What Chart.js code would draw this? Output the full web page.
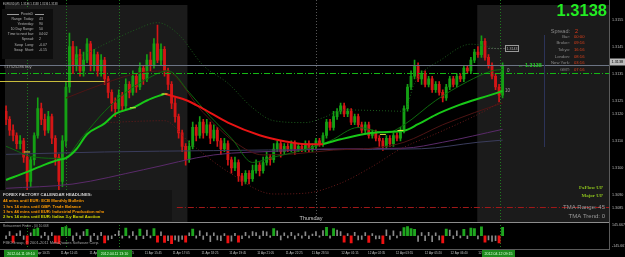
<!DOCTYPE html>
<html>
<head>
<meta charset="utf-8">
<script src="https://cdn.jsdelivr.net/npm/chart.js@4"></script>
<style>
  html, body { margin: 0; padding: 0; background: #000; }
  canvas { display: block; }
</style>
</head>
<body>
<canvas id="chart" width="625" height="257"></canvas>
<script>
// EURUSD candles, prices in pips above 1.3000, one entry per bar
const opens = [121,118,114,112,109,110,104,95,103,112,122,118,114,119,111,104,95,110,130,145,138,142,136,140,146,138,142,136,140,133,128,124,122,127,123,131,128,134,130,137,133,140,138,146,140,144,136,131,124,119,113,108,103,108,115,112,117,113,116,111,114,110,107,109,103,100,102,97,95,98,96,99,101,99,102,104,103,107,109,106,108,107,109,107,108,107,109,107,108,110,109,112,117,115,119,121,123,120,121,117,119,116,114,116,112,113,111,110,108,111,109,112,111,114,122,130,134,138,133,135,131,133,129,131,128,126,130,133,131,134,133,137,136,140,143,142,147,141,138,134,130,127];
const highs = [123,119,116,113,112,111,105,104,113,126,124,120,121,120,112,105,112,132,150,147,145,144,143,148,147,144,143,142,141,134,129,126,129,128,133,132,136,135,139,138,142,143,148,153,146,145,137,132,126,120,114,109,110,117,116,119,118,118,117,116,115,111,111,110,104,104,103,98,99,99,101,103,102,104,106,105,109,110,110,109,109,110,110,109,109,110,110,109,111,111,113,118,118,121,122,124,124,122,122,120,120,117,117,117,114,114,112,111,112,112,113,113,115,123,131,136,140,139,136,136,134,134,132,132,129,131,134,134,135,135,138,138,141,144,145,149,148,142,139,135,131,139];
const lows = [116,112,110,107,107,102,90.5,93,101,111,116,112,113,109,101,88,93,108,128,135,136,134,134,139,136,136,134,134,131,126,121,119,121,121,122,126,127,128,129,131,132,136,137,139,138,134,129,122,117,111,106,101,102,107,110,111,111,112,109,110,108,105,106,101,98,99,95,93.5,94,94,95,98,97,98,101,101,102,106,104,105,106,106,105,106,106,106,106,106,107,108,108,111,114,114,118,120,119,119,116,116,115,113,113,111,111,110,108,106.5,107,108,108,110,110,113,121,129,133,132,131,130,130,128,128,127,124.5,125,129,130,130,132,132,135,135,139,141,141,140,137,133,129,124.5,126];
const closes = [118,114,112,109,110,104,95,103,112,122,118,114,119,111,104,95,110,130,145,138,142,136,140,146,138,142,136,140,133,128,124,122,127,123,131,128,134,130,137,133,140,138,146,140,144,136,131,124,119,113,108,103,108,115,112,117,113,116,111,114,110,107,109,103,100,102,97,95,98,96,99,101,99,102,104,103,107,109,106,108,107,109,107,108,107,109,107,108,110,109,112,117,115,119,121,123,120,121,117,119,116,114,116,112,113,111,110,108,111,109,112,111,114,122,130,134,138,133,135,131,133,129,131,128,126,130,133,131,134,133,137,136,140,143,142,147,141,138,134,130,127,138];

// Retracement Finder histogram, one per bar
const hist = [-40,60,-95,30,70,-50,-120,40,95,110,-30,50,-60,45,-100,-110,120,130,100,-70,40,-45,60,90,-80,35,-55,50,-100,-60,-40,20,70,-35,110,-30,60,-50,95,-40,80,-30,100,-90,55,-95,-70,-110,-60,-80,-50,-90,40,95,-35,70,-50,45,-85,40,-60,-70,30,-100,-75,35,-90,-40,50,-30,60,45,-40,65,55,-25,100,70,-60,40,-30,50,-45,30,-35,55,-40,25,60,-20,75,120,-35,100,80,60,-90,30,-100,50,-60,-50,45,-95,30,-45,-40,-110,85,-50,70,-30,60,115,130,100,90,-80,45,-70,50,-85,40,-60,-100,95,80,-40,70,-30,90,-40,110,100,-45,125,-90,-60,-80,-70,-100,120];

// indicator lines (bar index, pips)
const tmaUpBars1 = [0,6,11,15,17,20,23,28,31,36,40,45];
const tmaUpVals1 = [95.5,98.5,101.2,103,103.6,107,112.5,116.5,120,122.3,125,127.5];
const tmaDownBars = [45,51,56,63,72,79,85,90];
const tmaDownVals = [127.5,125.2,121.9,116.8,112.1,109.9,108.8,108.8];
const tmaUpBars2 = [90,95,101,106,113,117,122,128,132,137,141];
const tmaUpVals2 = [108.8,110.6,112.4,113.2,113.8,116.2,119.7,123,124.8,126.8,128.5];
const fastBars = [0,8,16,22,28,34,40,46,52,58,64,70,76,84,92,100,108,113,122,131,138,141];
const fastVals = [108,104,103.5,112,121,128,133,136,128,119,111,102,104,106.5,110,115,113,116,125,132,136,136.5];
const upperBars = [17,28,37,43,49,56,63,70,76,85,90,96,107,113,116,124,132,140];
const upperVals = [138.6,145.9,151.4,153.9,149.5,138,131.4,122.3,117.5,116.8,118.6,121.5,121.2,121,131.4,140.5,145.9,144.1];
const lowerBars = [28,45,52,63,76,85,95,104,112,123,135,140];
const lowerVals = [116.8,117.5,109.5,98.6,90.3,90.6,94.3,100.5,107,113.2,120.5,124.1];
const midBars = [17,28,37,45,56,65,73,82,93,104,113,124,133,141];
const midVals = [125.9,131.4,135,136,120.5,109.5,104.8,105.2,106.6,107.3,109.5,116,120.5,124.1];
const slowBars = [0,19,39,59,79,90,113,124,141];
const slowVals = [92.4,94,99.3,104.8,106.3,107,107.3,109.5,114.3];
const flatBars = [0,28,59,90,118,134,141];
const flatVals = [105,105.9,106.4,106.8,107.1,109.5,110.3];
const markerBars = [6,36,45,107,112];
const markerVals = [105.9,122.3,127.4,112.4,113.9];

// axes
const priceTicks = [155,145,135,125,120,110,100,90,85];
const subTicks = [145.667,0,-145.667];
const tickBars = [7.6,15.5,23.7,31.5,39.4,47.3,55.5,63.4,71.3,79.4,86.8,95.2,102.8,110.7,118.9,126.2,134.1];
const tickLabels = ['11 Apr 10:25','11 Apr 11:45','11 Apr 13:05','11 Apr 14:25','11 Apr 15:45','11 Apr 17:05','11 Apr 18:25','11 Apr 19:45','11 Apr 21:05','11 Apr 22:25','11 Apr 23:50','12 Apr 01:15','12 Apr 02:35','12 Apr 03:55','12 Apr 05:20','12 Apr 06:40','12 Apr 08:00'];

// levels and sessions
const bidPrice = 138;
const orderPrice = 135.2;
const yellowLevel = 132.4;
const redLevel = 85.5;
const sessions = [[-0.3, 51.5], [133.8, 171.5]];
const greenVLines = [6, 17, 32, 140.3];
const dayLine = 88;

const UP = '#14a014', DOWN = '#d41616';
const fmt = v => (1.3 + v / 10000).toFixed(4);
const pts = (bars, vals) => bars.map((b, i) => ({ x: b, y: vals[i] }));
const candleColor = c => closes[c.dataIndex] >= opens[c.dataIndex] ? UP : DOWN;

function line(label, data, color, width, dash) {
  return { type: 'line', label, data, borderColor: color, borderWidth: width, borderDash: dash || [],
    pointRadius: 0, cubicInterpolationMode: 'monotone', yAxisID: 'y' };
}

const overlay = {
  id: 'overlay',
  beforeDraw(chart) {
    const { ctx } = chart;
    ctx.save();
    ctx.fillStyle = '#000';
    ctx.fillRect(0, 0, chart.width, chart.height);
    ctx.restore();
  },
  beforeDatasetsDraw(chart) {
    const { ctx, scales: { x, y } } = chart;
    ctx.save();
    ctx.fillStyle = '#1b1b1b';
    sessions.forEach(([a, b]) => {
      const x0 = x.getPixelForValue(a), x1 = x.getPixelForValue(b);
      ctx.fillRect(x0, y.top, x1 - x0, y.bottom - y.top);
    });
    ctx.lineWidth = 1;
    ctx.setLineDash([1, 2]);
    ctx.strokeStyle = '#1f7a1f';
    greenVLines.forEach(b => {
      const px = Math.round(x.getPixelForValue(b)) + 0.5;
      ctx.beginPath(); ctx.moveTo(px, 0); ctx.lineTo(px, 249); ctx.stroke();
    });
    ctx.strokeStyle = '#555';
    const dx = Math.round(x.getPixelForValue(dayLine)) + 0.5;
    ctx.beginPath(); ctx.moveTo(dx, 0); ctx.lineTo(dx, y.bottom); ctx.stroke();
    ctx.restore();
  },
  afterDatasetsDraw(chart) {
    const { ctx, scales: { x, y } } = chart;
    const right = x.right;
    const hy = v => Math.round(y.getPixelForValue(v)) + 0.5;
    ctx.save();
    ctx.lineWidth = 1;
    // bid line
    ctx.strokeStyle = '#6c7484';
    ctx.beginPath(); ctx.moveTo(0, hy(bidPrice)); ctx.lineTo(right, hy(bidPrice)); ctx.stroke();
    // order line
    ctx.strokeStyle = '#14b814';
    ctx.setLineDash([6, 2, 1, 2]);
    ctx.beginPath(); ctx.moveTo(0, hy(orderPrice)); ctx.lineTo(right, hy(orderPrice)); ctx.stroke();
    // red level
    ctx.strokeStyle = '#a01818';
    ctx.beginPath(); ctx.moveTo(x.getPixelForValue(48.5), hy(redLevel)); ctx.lineTo(right, hy(redLevel)); ctx.stroke();
    ctx.setLineDash([]);
    // yellow level
    ctx.strokeStyle = '#c8bd3c';
    ctx.beginPath(); ctx.moveTo(0, hy(yellowLevel)); ctx.lineTo(x.getPixelForValue(28), hy(yellowLevel)); ctx.stroke();
    // label pointer 1.3143
    ctx.strokeStyle = '#777';
    ctx.setLineDash([1, 2]);
    ctx.beginPath(); ctx.moveTo(x.getPixelForValue(137), 48.5); ctx.lineTo(505, 48.5); ctx.stroke();
    ctx.setLineDash([]);
    ctx.strokeStyle = '#999';
    ctx.strokeRect(505.5, 45.5, 13, 6);
    // right panel vertical
    ctx.strokeStyle = '#2c3358';
    ctx.beginPath(); ctx.moveTo(544.5, 35); ctx.lineTo(544.5, 147); ctx.stroke();
    ctx.restore();
  },
  afterDraw(chart) {
    const { ctx } = chart;
    ctx.save();
    ctx.textBaseline = 'middle';
    const txt = (s, px, py, font, color, align) => {
      ctx.font = font; ctx.fillStyle = color; ctx.textAlign = align || 'left';
      ctx.fillText(s, px, py);
    };
    const F = 'Liberation Sans, Arial, sans-serif';

    // window borders
    ctx.strokeStyle = '#8c8c8c'; ctx.lineWidth = 1;
    ctx.beginPath(); ctx.moveTo(0, 222.5); ctx.lineTo(610, 222.5); ctx.stroke();
    ctx.strokeStyle = '#5a5a5a';
    ctx.beginPath(); ctx.moveTo(0, 249.5); ctx.lineTo(610, 249.5); ctx.stroke();
    ctx.beginPath(); ctx.moveTo(609.5, 0); ctx.lineTo(609.5, 249.5); ctx.stroke();

    txt('EURUSD,M5  1.3136 1.3138 1.3136 1.3138', 3, 4, '2.8px ' + F, '#c8c8c8');

    // pivots box
    ctx.fillStyle = '#0e0e0e'; ctx.fillRect(2, 9, 51, 50);
    ctx.strokeStyle = '#9a9a9a';
    ctx.beginPath(); ctx.moveTo(7, 14.5); ctx.lineTo(19, 14.5); ctx.moveTo(35, 14.5); ctx.lineTo(44, 14.5); ctx.stroke();
    txt('PivotsD', 27, 14, '3.6px ' + F, '#b4b4b4', 'center');
    const piv = [['Range  Today:', '43'], ['Yesterday:', '90'], ['10 Day Range:', '50'], ['Time to next bar:', '04:02'],
      ['Spread:', '2'], ['Swap  Long:', '-0.07'], ['Swap  Short:', '-0.15']];
    const pivY = [19.5, 24.5, 29.5, 34.5, 39.5, 45, 50.5];
    piv.forEach(([a, b], i) => {
      txt(a, 34, pivY[i], '3.5px ' + F, '#b4b4b4', 'right');
      txt(b, 39, pivY[i], '3.5px ' + F, '#b4b4b4');
    });
    txt('#17525286 buy', 4, 67, '4px ' + F, '#a8a8a8');

    // big price and clock panel
    txt('1.3138', 607, 11.5, 'bold 16.5px ' + F, '#22ee22', 'right');
    txt('Spread:', 570, 31, '5.5px ' + F, '#8a8a8a', 'right');
    txt('2', 575, 31, '5.5px ' + F, '#e03a1a');
    const clk = [['Bar:', '00:00'], ['Broker:', '09:16'], ['Tokyo:', '16:16'], ['London:', '08:16'], ['New York:', '03:16'], ['GMT:', '07:16']];
    const clkY = [36.5, 43, 50, 56.5, 63, 69.5];
    clk.forEach(([a, b], i) => {
      txt(a, 570, clkY[i], '4.2px ' + F, '#8a8a8a', 'right');
      txt(b, 574, clkY[i], '4.2px ' + F, '#e0401a');
    });
    txt('1.3143', 512, 48.7, '3.6px ' + F, '#b0b0b0', 'center');
    txt('\u2190 1.3138', 518, 65, 'bold 5.5px ' + F, '#22cc22');
    txt('0', 507, 71, '4.5px ' + F, '#a0a0a0');
    txt('10', 505, 91, '4.5px ' + F, '#a0a0a0');

    txt('FxFlow UP', 603, 188, 'bold 5px Liberation Serif, serif', '#8cc21c', 'right');
    txt('Major UP', 603, 196, 'bold 5px Liberation Serif, serif', '#8cc21c', 'right');
    txt('TMA Range: 45', 605, 207, '6px ' + F, '#9a9a9a', 'right');
    txt('TMA Trend: 0', 605, 216, '6px ' + F, '#9a9a9a', 'right');

    // calendar box
    ctx.fillStyle = '#131313'; ctx.fillRect(0, 190, 172, 31);
    txt('FOREX FACTORY CALENDAR HEADLINES:', 3, 195, 'bold 4.3px ' + F, '#d0d0d0');
    txt('44 mins until EUR: ECB Monthly Bulletin', 3, 201, 'bold 4.2px ' + F, '#ff9a00');
    txt('1 hrs 14 mins until GBP: Trade Balance', 3, 206.5, 'bold 4.2px ' + F, '#ff9a00');
    txt('1 hrs 44 mins until EUR: Industrial Production m/m', 3, 212, 'bold 4.2px ' + F, '#ff9a00');
    txt('2 hrs 14 mins until EUR: Italian 3-y Bond Auction', 3, 217, 'bold 4.2px ' + F, '#d8d800');

    txt('Thursday', 311, 218.5, '5.5px ' + F, '#c8c8c8', 'center');

    // sub window
    txt('Retracement Finder - (0) 10.668', 3, 226.5, '3.2px ' + F, '#a0a0a0');
    txt('FIBOGroup, \u00a9 2001-2011 MetaQuotes Software Corp.', 3, 243, '4px ' + F, '#a0a0a0');

    // time axis vline labels
    [[4, 34, '2012.04.11 09:10'], [97, 35, '2012.04.11 13:10'], [482, 33, '2012.04.12 09:15']].forEach(([bx, bw, s]) => {
      ctx.fillStyle = '#1d8a1d'; ctx.fillRect(bx, 250, bw, 7);
      txt(s, bx + bw / 2, 253.5, '3.6px ' + F, '#d8ffd8', 'center');
    });

    // current price tag
    ctx.fillStyle = '#bcbcbc'; ctx.fillRect(610, 58.5, 15, 7);
    txt(fmt(bidPrice), 611.5, 62, '3.8px ' + F, '#000');
    ctx.restore();
  }
};

const candleWicks = closes.map((c, i) => ({ x: i, y: [lows[i], highs[i]] }));
const candleBodies = closes.map((c, i) => ({ x: i, y: [opens[i], c] }));
const histPts = hist.map((v, i) => ({ x: i, y: v }));

new Chart(document.getElementById('chart'), {
  type: 'bar',
  data: {
    datasets: [
      { type: 'scatter', label: 'markers', data: pts(markerBars, markerVals), pointStyle: 'line',
        pointRadius: 3, borderColor: '#e0e040', borderWidth: 1, yAxisID: 'y' },
      line('TMA up', pts(tmaUpBars1, tmaUpVals1), '#18c818', 2),
      line('TMA down', pts(tmaDownBars, tmaDownVals), '#e81414', 2),
      line('TMA up 2', pts(tmaUpBars2, tmaUpVals2), '#18c818', 2),
      line('fast', pts(fastBars, fastVals), '#0e6a0e', 1),
      line('upper', pts(upperBars, upperVals), '#1c5c1c', 1, [1, 2]),
      line('lower', pts(lowerBars, lowerVals), '#6a1a1a', 1, [1, 2]),
      line('mid', pts(midBars, midVals), '#4e1414', 1),
      line('slow', pts(slowBars, slowVals), '#5a2a6a', 1),
      line('flat', pts(flatBars, flatVals), '#3a3c5c', 1),
      { label: 'bodies', data: candleBodies, backgroundColor: candleColor, barThickness: 2.2,
        grouped: false, yAxisID: 'y' },
      { label: 'wicks', data: candleWicks, backgroundColor: candleColor, barThickness: 1,
        grouped: false, yAxisID: 'y' },
      { label: 'rf green', data: histPts.filter(p => p.y >= 90), backgroundColor: '#1fa61f',
        barThickness: 2.2, grouped: false, yAxisID: 'y2' },
      { label: 'rf red', data: histPts.filter(p => p.y <= -90), backgroundColor: '#ee1111',
        barThickness: 2.2, grouped: false, yAxisID: 'y2' },
      { label: 'rf gray', data: histPts.filter(p => p.y > -90 && p.y < 90), backgroundColor: '#8a8a8a',
        barThickness: 1, grouped: false, yAxisID: 'y2' }
    ]
  },
  options: {
    responsive: false,
    animation: false,
    devicePixelRatio: 1,
    layout: { padding: 0 },
    plugins: { legend: { display: false }, tooltip: { enabled: false } },
    scales: {
      x: {
        type: 'linear', min: -0.3, max: 171.5, offset: false, position: 'bottom',
        grid: { display: false, drawTicks: false }, border: { display: false },
        ticks: {
          autoSkip: false, maxRotation: 0, align: 'start', padding: 2,
          color: '#c0c0c0', font: { size: 3, family: 'Liberation Sans' },
          callback: v => tickLabels[tickBars.indexOf(v)] || ''
        },
        afterBuildTicks: s => { s.ticks = tickBars.map(v => ({ value: v })); },
        afterFit: s => { s.height = 8; s.paddingLeft = 0; s.paddingRight = 0; }
      },
      y: {
        type: 'linear', position: 'right', stack: 'win', stackWeight: 222, min: 79.7, max: 160.45,
        grid: { display: false, drawTicks: false }, border: { display: false },
        ticks: { padding: 2, color: '#b8b8b8', font: { size: 3.7, family: 'Liberation Sans' }, callback: v => fmt(v) },
        afterBuildTicks: s => { s.ticks = priceTicks.map(v => ({ value: v })); },
        afterFit: s => { s.width = 15; s.paddingTop = 0; s.paddingBottom = 0; }
      },
      y2: {
        type: 'linear', position: 'right', stack: 'win', stackWeight: 27, min: -187, max: 187,
        grid: { display: false, drawTicks: false }, border: { display: false },
        ticks: { padding: 2, color: '#b8b8b8', font: { size: 3.6, family: 'Liberation Sans' },
          callback: v => v === 0 ? '0.00' : v.toFixed(3) },
        afterBuildTicks: s => { s.ticks = subTicks.map(v => ({ value: v })); },
        afterFit: s => { s.width = 15; s.paddingTop = 0; s.paddingBottom = 0; }
      }
    }
  },
  plugins: [overlay]
});
</script>
</body>
</html>
